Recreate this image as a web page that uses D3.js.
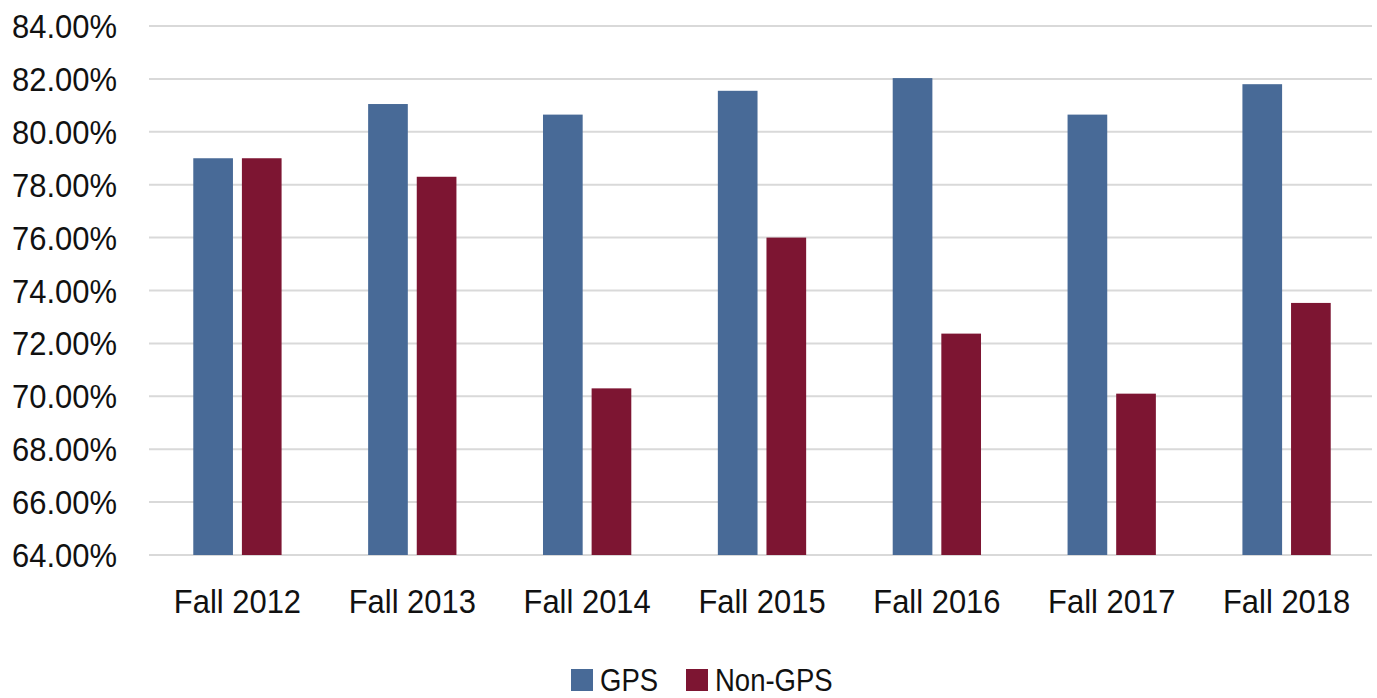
<!DOCTYPE html>
<html>
<head>
<meta charset="utf-8">
<script src="https://cdn.jsdelivr.net/npm/d3@7"></script>
<style>
  body { margin: 0; background: #fff; }
  text { font-family: "Liberation Sans", Arial, sans-serif; fill: #111; }
</style>
</head>
<body>
<div id="chart"></div>
<script>
// categories and series values (percent)
var categories = ['Fall 2012', 'Fall 2013', 'Fall 2014', 'Fall 2015', 'Fall 2016', 'Fall 2017', 'Fall 2018'];
var series = ['GPS', 'Non-GPS'];
var gps = [79.0, 81.05, 80.65, 81.55, 82.03, 80.65, 81.8];
var nonGps = [79.0, 78.3, 70.3, 76.0, 72.37, 70.1, 73.53];
var yTicks = [64, 66, 68, 70, 72, 74, 76, 78, 80, 82, 84];
var colors = ['#486a97', '#7d1532'];

var w = 1377, h = 698;
var margin = { top: 26, right: 3, bottom: 143, left: 150 };

var svg = d3.select('#chart')
    .append('svg')
    .attr('width', w)
    .attr('height', h);

var x0 = d3.scaleBand()
    .domain(categories)
    .range([margin.left, w - margin.right])
    .padding(0);

var x1 = d3.scaleBand()
    .domain(series)
    .range([0, x0.bandwidth()])
    .paddingInner(0.184)
    .paddingOuter(0.89);

var y = d3.scaleLinear()
    .domain([64, 84])
    .range([h - margin.bottom, margin.top]);

// gridlines
svg.append('g')
    .selectAll('line')
    .data(yTicks)
    .enter()
    .append('line')
    .attr('x1', 149)
    .attr('x2', 1372)
    .attr('y1', function (d) { return y(d); })
    .attr('y2', function (d) { return y(d); })
    .attr('stroke', '#d9d9d9')
    .attr('stroke-width', 2);

// y labels (horizontally condensed)
svg.append('g')
    .selectAll('text')
    .data(yTicks)
    .enter()
    .append('text')
    .attr('transform', function (d) { return `translate(117,${y(d) + 12}) scale(0.91,1)`; })
    .attr('text-anchor', 'end')
    .style('font-size', '34px')
    .text(function (d) { return d.toFixed(2) + '%'; });

// bars
var rows = categories.map(function (c, i) {
    return { cat: c, vals: [gps[i], nonGps[i]] };
});

var groups = svg.append('g')
    .selectAll('g')
    .data(rows)
    .enter()
    .append('g')
    .attr('transform', function (d) { return `translate(${x0(d.cat)},0)`; });

groups.selectAll('rect')
    .data(function (d) { return d.vals.map(function (v, j) { return { s: series[j], v: v, j: j }; }); })
    .enter()
    .append('rect')
    .attr('x', function (d) { return x1(d.s); })
    .attr('width', x1.bandwidth())
    .attr('y', function (d) { return y(d.v); })
    .attr('height', function (d) { return y(64) - y(d.v); })
    .attr('fill', function (d) { return colors[d.j]; });

// x labels
svg.append('g')
    .selectAll('text')
    .data(categories)
    .enter()
    .append('text')
    .attr('transform', function (d) { return `translate(${x0(d) + x0.bandwidth() / 2},613) scale(0.91,1)`; })
    .attr('text-anchor', 'middle')
    .style('font-size', '34px')
    .text(function (d) { return d; });

// legend
var legendX = [571, 686];
var legend = svg.append('g')
    .selectAll('g')
    .data(series)
    .enter()
    .append('g')
    .attr('transform', function (d, i) { return `translate(${legendX[i]},669)`; });

legend.append('rect')
    .attr('width', 22)
    .attr('height', 22)
    .attr('fill', function (d, i) { return colors[i]; });

legend.append('text')
    .attr('transform', 'translate(29,22) scale(0.86,1)')
    .style('font-size', '32px')
    .text(function (d) { return d; });
</script>
</body>
</html>
